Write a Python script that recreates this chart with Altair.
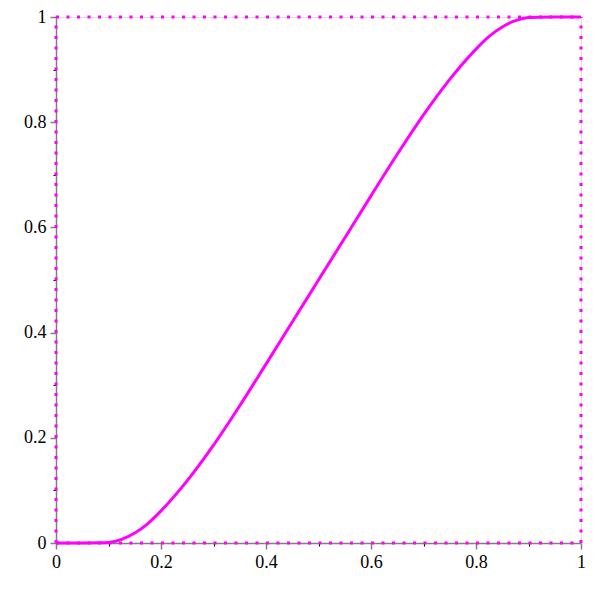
import altair as alt
import pandas as pd

# curve values
xs = [0.0, 0.05, 0.08, 0.1, 0.125, 0.15, 0.175, 0.2, 0.25, 0.3, 0.35, 0.4, 0.45, 0.5,
      0.55, 0.6, 0.65, 0.7, 0.75, 0.8, 0.825, 0.85, 0.875, 0.9, 0.92, 0.95, 1.0]
ys = [0.0, 0.0, 0.0003, 0.001, 0.007, 0.019, 0.037, 0.061, 0.1185, 0.186, 0.261, 0.34, 0.42, 0.5,
      0.58, 0.66, 0.739, 0.814, 0.8815, 0.939, 0.963, 0.981, 0.993, 0.999, 0.9997, 1.0, 1.0]

major_ticks = [0, 0.2, 0.4, 0.6, 0.8, 1]
minor_ticks = [0.1, 0.3, 0.5, 0.7, 0.9]

# dotted frame lines
box_x = [0, 0, 0, 1]
box_x2 = [1, 1, 0, 1]
box_y = [0, 1, 0, 0]
box_y2 = [0, 1, 1, 1]

curve = pd.DataFrame({"x": xs, "y": ys})
box = pd.DataFrame({"x": box_x, "x2": box_x2, "y": box_y, "y2": box_y2})

FONT = "Liberation Serif"
xscale = alt.Scale(domain=[0, 1], nice=False, zero=False)
yscale = alt.Scale(domain=[0, 1], nice=False, zero=False)

main_axis = dict(values=major_ticks, grid=False, domainColor="#808080", domainWidth=1.5,
                 tickColor="#808080", tickSize=6, tickWidth=1.5, labelFont=FONT,
                 labelFontSize=18, labelColor="black", labelPadding=4, title=None,
                 labelExpr="datum.value == 0 ? '0' : datum.value == 1 ? '1' : format(datum.value, '.1f')")
minor_axis = dict(values=minor_ticks, grid=False, domain=False, labels=False,
                  tickColor="black", tickSize=3, tickWidth=1, title=None)

line = alt.Chart(curve).mark_line(color="#FF00FF", strokeWidth=3, interpolate="monotone").encode(
    x=alt.X("x:Q", scale=xscale, axis=alt.Axis(orient="bottom", labelFlush=False, **main_axis)),
    y=alt.Y("y:Q", scale=yscale, axis=alt.Axis(orient="left", **main_axis)),
)

frame = alt.Chart(box).mark_rule(color="#FF00FF", strokeWidth=3, strokeDash=[3, 7.5]).encode(
    x=alt.X("x:Q", scale=xscale, axis=alt.Axis(orient="bottom", **minor_axis)),
    x2="x2:Q",
    y=alt.Y("y:Q", scale=yscale, axis=alt.Axis(orient="left", **minor_axis)),
    y2="y2:Q",
)

chart = alt.layer(frame, line).resolve_axis(x="independent", y="independent").properties(
    width=525, height=526,
    autosize=alt.AutoSizeParams(type="none"),
    padding={"left": 48, "top": 9, "right": 5, "bottom": 35},
).configure_view(stroke=None).configure(background="white")

chart.save("out.html", embed_options={"renderer": "svg", "actions": False})
